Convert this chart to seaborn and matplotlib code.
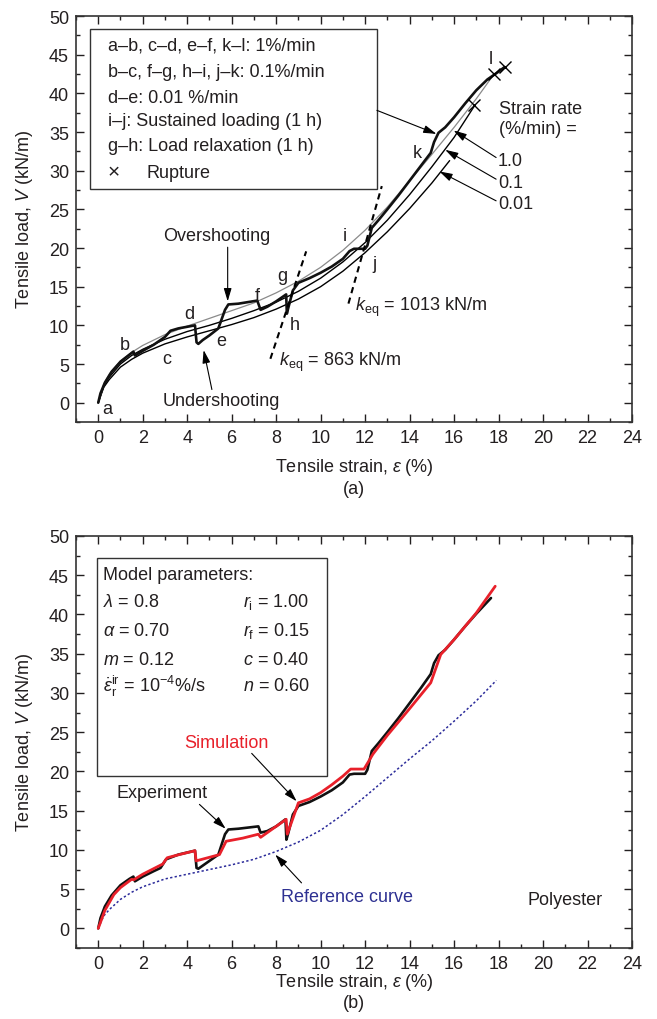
import numpy as np
import pandas as pd
import matplotlib
matplotlib.use("Agg")
import matplotlib.pyplot as plt
import seaborn as sns
from matplotlib.ticker import MultipleLocator
from matplotlib.patches import Rectangle

# ---------------- data: panel (a) ----------------
# multi-stage test (a ... l)
ms_strain = [0, 0.1, 0.3, 0.6, 1.0, 1.4, 1.58, 1.65, 2.0, 2.5, 3.0, 3.25, 3.6, 4.35, 4.42, 4.5, 4.7,
             5.0, 5.4, 5.55, 5.7, 5.85, 6.3, 7.15, 7.3, 7.6, 8.0, 8.45, 8.48, 8.55, 8.75, 9.0, 9.5,
             10.0, 10.5, 11.0, 11.3, 11.5, 12.0, 12.1, 12.3, 12.6, 13.0, 13.5, 14.0, 14.5, 14.95,
             15.1, 15.3, 15.6, 16.0, 16.5, 17.0, 17.5, 18.0, 18.27]
ms_load = [0, 1.2, 2.6, 4.0, 5.3, 6.2, 6.6, 6.1, 6.7, 7.5, 8.5, 9.3, 9.6, 10.0, 7.8, 7.6, 8.1,
           8.7, 9.6, 10.8, 12.0, 12.7, 12.8, 13.2, 12.0, 12.4, 13.1, 14.0, 11.5, 12.3, 14.5, 15.5, 16.1,
           16.8, 17.6, 18.6, 19.6, 19.9, 19.9, 20.3, 22.6, 23.6, 25.0, 26.8, 28.7, 30.6, 32.3,
           33.7, 34.9, 35.6, 36.9, 38.7, 40.4, 41.8, 42.8, 43.4]

# constant-rate tests
r1_strain = [0, 0.25, 0.5, 1, 1.5, 2, 3, 4, 5, 6, 7, 8, 9, 10, 11, 12, 13, 14, 15, 16, 17, 17.8]
r1_load = [0, 2.4, 3.7, 5.4, 6.5, 7.4, 8.8, 9.9, 10.9, 11.9, 12.9, 14.2, 15.7, 17.5, 19.7, 22.3,
           25.3, 28.7, 32.1, 35.6, 39.3, 42.5]
r01_strain = [0, 0.25, 0.5, 1, 1.5, 2, 3, 4, 5, 6, 7, 8, 9, 10, 11, 12, 13, 14, 15, 16, 16.9]
r01_load = [0, 2.2, 3.3, 5.0, 6.1, 6.9, 8.2, 9.2, 10.0, 10.9, 11.9, 13.0, 14.4, 16.1, 18.2, 20.7,
            23.6, 26.9, 30.5, 34.3, 38.3]
r001_strain = [0, 0.25, 0.5, 1, 1.5, 2, 3, 4, 5, 6, 7, 8, 9, 10, 11, 12, 13, 14, 15, 15.8]
r001_load = [0, 2.0, 3.0, 4.6, 5.6, 6.4, 7.6, 8.5, 9.3, 10.1, 11.0, 12.1, 13.4, 15.0, 17.0, 19.4,
             22.1, 25.1, 28.4, 31.3]

rupture_strain = [18.27, 17.8, 16.9]
rupture_load = [43.4, 42.5, 38.5]

keq_values = [863, 1013]              # kN/m
keq_anchor_strain = [8.45, 11.95]
keq_anchor_load = [11.8, 19.9]
keq_span = [(7.74, 9.35), (11.25, 12.75)]

stage_letters = ["a", "b", "c", "d", "e", "f", "g", "h", "i", "j", "k", "l"]
stage_x = [0.4, 1.2, 3.08, 4.09, 5.53, 7.14, 8.27, 8.84, 11.1, 12.4, 14.36, 17.67]
stage_y = [-0.7, 7.5, 5.7, 11.5, 8.05, 13.9, 16.4, 10.1, 21.6, 18.0, 32.4, 44.5]

legend_lines_a = ["a\u2013b, c\u2013d, e\u2013f, k\u2013l: 1%/min",
                  "b\u2013c, f\u2013g, h\u2013i, j\u2013k: 0.1%/min",
                  "d\u2013e: 0.01 %/min",
                  "i\u2013j: Sustained loading (1 h)",
                  "g\u2013h: Load relaxation (1 h)"]
rate_labels = ["1.0", "0.1", "0.01"]

# ---------------- data: panel (b) ----------------
exp_strain = [0, 0.1, 0.3, 0.6, 1.0, 1.4, 1.58, 1.65, 2.0, 2.5, 2.8, 3.05, 3.6, 4.35, 4.42, 4.5, 4.7,
              5.0, 5.4, 5.55, 5.7, 5.85, 6.3, 7.2, 7.3, 7.6, 8.0, 8.42, 8.46, 8.55, 8.75, 9.0, 9.5,
              10.0, 10.5, 11.0, 11.3, 11.5, 12.0, 12.1, 12.3, 12.6, 13.0, 13.5, 14.0, 14.5, 14.95,
              15.1, 15.3, 15.6, 16.0, 16.5, 17.0, 17.66]
exp_load = [0, 1.3, 2.8, 4.2, 5.5, 6.3, 6.6, 6.0, 6.6, 7.3, 7.7, 8.8, 9.4, 9.9, 7.7, 7.6, 8.0,
            8.6, 9.4, 10.7, 12.0, 12.6, 12.7, 13.0, 12.2, 12.4, 13.0, 13.9, 11.3, 12.2, 14.5, 15.6, 16.1,
            16.8, 17.6, 18.6, 19.6, 19.7, 19.7, 20.2, 22.6, 23.6, 25.0, 26.8, 28.7, 30.6, 32.4,
            33.8, 34.8, 35.5, 36.8, 38.5, 40.1, 42.1]

sim_strain = [0, 0.3, 0.7, 1.0, 1.5, 1.6, 2.0, 2.9, 3.1, 3.5, 4.35, 4.4, 5.45, 5.75, 6.5, 7.2, 7.3,
              8.45, 8.5, 9.0, 9.5, 10.0, 10.5, 11.0, 11.35, 11.95, 12.35, 13.0, 14.0, 14.95, 15.4,
              16.0, 17.0, 17.85]
sim_load = [0, 2.3, 4.3, 5.2, 6.25, 6.2, 6.9, 8.2, 9.0, 9.3, 9.9, 8.6, 9.4, 11.1, 11.5, 12.0, 11.6,
            13.9, 12.0, 16.0, 16.5, 17.3, 18.3, 19.4, 20.3, 20.3, 22.2, 24.6, 28.0, 31.3, 34.9,
            36.8, 40.2, 43.6]

ref_strain = [0, 0.25, 0.5, 1, 1.5, 2, 3, 4, 5, 6, 7, 8, 9, 10, 11, 12, 13, 14, 15, 16, 17, 17.9]
ref_load = [0, 1.6, 2.4, 3.7, 4.6, 5.3, 6.3, 6.9, 7.5, 8.1, 8.8, 9.8, 11.0, 12.5, 14.5, 16.8,
            19.2, 21.6, 23.9, 26.4, 29.0, 31.6]

param_left = [r"$\lambda$ = 0.8", r"$\alpha$ = 0.70", r"$m$ = 0.12",
              r"$\dot{\varepsilon}_{\mathrm{r}}^{\mathrm{ir}}$ = 10$^{-4}$%/s"]
param_right = [r"$r_{\mathrm{i}}$ = 1.00", r"$r_{\mathrm{f}}$ = 0.15", r"$c$ = 0.40", r"$n$ = 0.60"]

# ---------------- style ----------------
sns.set_theme(style="ticks")
TXT = "#231f20"
FS = 13
plt.rcParams.update({
    "font.family": ["Liberation Sans", "DejaVu Sans"],
    "font.size": FS,
    "mathtext.fontset": "custom",
    "mathtext.rm": "Liberation Sans",
    "mathtext.it": "Liberation Sans:italic",
    "mathtext.bf": "Liberation Sans:bold",
    "text.color": TXT,
    "axes.labelcolor": TXT,
    "xtick.color": TXT,
    "ytick.color": TXT,
    "axes.edgecolor": "#333333",
})

fig = plt.figure(figsize=(6.57, 10.2), dpi=100)
axA = fig.add_axes([76 / 657, 1 - 423 / 1020, 556 / 657, 406 / 1020])
axB = fig.add_axes([76 / 657, 1 - 949 / 1020, 556 / 657, 412 / 1020])


def style_axes(ax):
    ax.set_xlim(-1, 24)
    ax.set_ylim(-2.5, 50)
    ax.xaxis.set_major_locator(MultipleLocator(2))
    ax.xaxis.set_minor_locator(MultipleLocator(1))
    ax.yaxis.set_major_locator(MultipleLocator(5))
    ax.yaxis.set_minor_locator(MultipleLocator(2.5))
    ax.tick_params(which="both", direction="in", top=True, right=True, width=1.0,
                   labelsize=FS, pad=5)
    ax.tick_params(which="major", length=5.5)
    ax.tick_params(which="minor", length=3)
    for s in ax.spines.values():
        s.set_linewidth(1.2)
    ax.set_ylabel("Tensile load, $V$ (kN/m)", fontsize=FS, labelpad=10)
    ax.set_xlabel("")


def arrow(ax, start, tip, color="black"):
    ax.annotate("", xy=tip, xytext=start,
                arrowprops=dict(arrowstyle="-|>,head_length=0.6,head_width=0.18",
                                lw=0.8, color=color, shrinkA=0, shrinkB=0))


def line(ax, xs, ys, **kw):
    sns.lineplot(x=xs, y=ys, ax=ax, sort=False, estimator=None, legend=False, **kw)


# ---------------- panel (a) ----------------
line(axA, r001_strain, r001_load, color="black", linewidth=1.0)
line(axA, r01_strain, r01_load, color="black", linewidth=1.0)
line(axA, r1_strain, r1_load, color="#8a8a8a", linewidth=0.9)
line(axA, ms_strain, ms_load, color="#111111", linewidth=1.9)
axA.plot(rupture_strain, rupture_load, linestyle="none", marker="x", markersize=9,
         markeredgewidth=1.0, color="black")

for k, (x0a, y0a), (xs0, xs1) in zip(keq_values, zip(keq_anchor_strain, keq_anchor_load), keq_span):
    slope = k / 100.0
    xx = np.array([xs0, xs1])
    axA.plot(xx, y0a + slope * (xx - x0a), color="black", linestyle=(0, (3, 2.2)), linewidth=1.5)

axA.text(8.12, 5.3, r"$k_{\mathrm{eq}}$ = 863 kN/m", fontsize=FS, va="center", ha="left")
axA.text(11.55, 12.4, r"$k_{\mathrm{eq}}$ = 1013 kN/m", fontsize=FS, va="center", ha="left")

for lt, lx, ly in zip(stage_letters, stage_x, stage_y):
    axA.text(lx, ly, lt, fontsize=FS, ha="center", va="center")

axA.text(5.34, 21.6, "Overshooting", fontsize=FS, ha="center", va="center")
arrow(axA, (5.82, 20.1), (5.82, 13.1))
axA.text(5.53, 0.3, "Undershooting", fontsize=FS, ha="center", va="center")
arrow(axA, (5.11, 1.7), (4.74, 6.8))

# legend box (a)
axA.add_patch(Rectangle((-0.37, 27.6), 12.9, 20.7, fill=True, facecolor="white",
                        edgecolor="#333333", linewidth=1.0, zorder=3))
box_y = [46.25, 42.8, 39.5, 36.5, 33.3]
for t, yy in zip(legend_lines_a, box_y):
    axA.text(0.42, yy, t, fontsize=FS, va="center", ha="left", zorder=4)
axA.text(0.42, 29.8, "\u00d7", fontsize=FS + 2, va="center", ha="left", zorder=4)
axA.text(2.17, 29.8, "Rupture", fontsize=FS, va="center", ha="left", zorder=4)
arrow(axA, (12.53, 37.8), (15.21, 34.75))

axA.text(18.04, 38.0, "Strain rate", fontsize=FS, va="center", ha="left")
axA.text(18.04, 35.4, "(%/min) =", fontsize=FS, va="center", ha="left")
rate_y = [31.3, 28.5, 25.7]
rate_tips = [(15.98, 35.2), (15.6, 32.7), (15.34, 29.9)]
for lab, yy, tip in zip(rate_labels, rate_y, rate_tips):
    axA.text(17.97, yy, lab, fontsize=FS, va="center", ha="left")
    arrow(axA, (17.89, yy + 0.4), tip)

style_axes(axA)
fig.text((76 + 278) / 657, 1 - 468 / 1020, r"Tensile strain, $\varepsilon$ (%)", ha="center",
         va="center", fontsize=FS)
fig.text((76 + 278) / 657, 1 - 490 / 1020, "(a)", ha="center", va="center", fontsize=FS)

# ---------------- panel (b) ----------------
line(axB, ref_strain, ref_load, color="#2b2b9a", linewidth=1.1, linestyle=(0, (1.5, 1.5)))
line(axB, exp_strain, exp_load, color="#111111", linewidth=1.9)
line(axB, sim_strain, sim_load, color="#e8202a", linewidth=2.0)

axB.add_patch(Rectangle((-0.04, 19.4), 10.34, 27.8, fill=False, edgecolor="#333333",
                        linewidth=1.0, zorder=3))
axB.text(0.23, 45.1, "Model parameters:", fontsize=FS, va="center", ha="left")
par_y = [41.7, 38.0, 34.3, 30.9]
for tl, tr, yy in zip(param_left, param_right, par_y):
    axB.text(0.23, yy, tl, fontsize=FS, va="center", ha="left")
    axB.text(6.52, yy, tr, fontsize=FS, va="center", ha="left")

axB.text(5.75, 23.7, "Simulation", color="#e8202a", fontsize=FS, ha="center", va="center")
arrow(axB, (6.9, 22.3), (8.92, 16.2))
axB.text(2.89, 17.3, "Experiment", fontsize=FS, ha="center", va="center")
arrow(axB, (4.55, 15.8), (5.73, 12.7))
axB.text(8.2, 4.1, "Reference curve", color="#2e3192", fontsize=FS, ha="left", va="center")
arrow(axB, (9.14, 5.8), (7.96, 9.4))
axB.text(21.0, 3.7, "Polyester", fontsize=FS, ha="center", va="center")

style_axes(axB)
fig.text((76 + 278) / 657, 1 - 983 / 1020, r"Tensile strain, $\varepsilon$ (%)", ha="center",
         va="center", fontsize=FS)
fig.text((76 + 278) / 657, 1 - 1004 / 1020, "(b)", ha="center", va="center", fontsize=FS)

fig.savefig("out.png", dpi=100)
